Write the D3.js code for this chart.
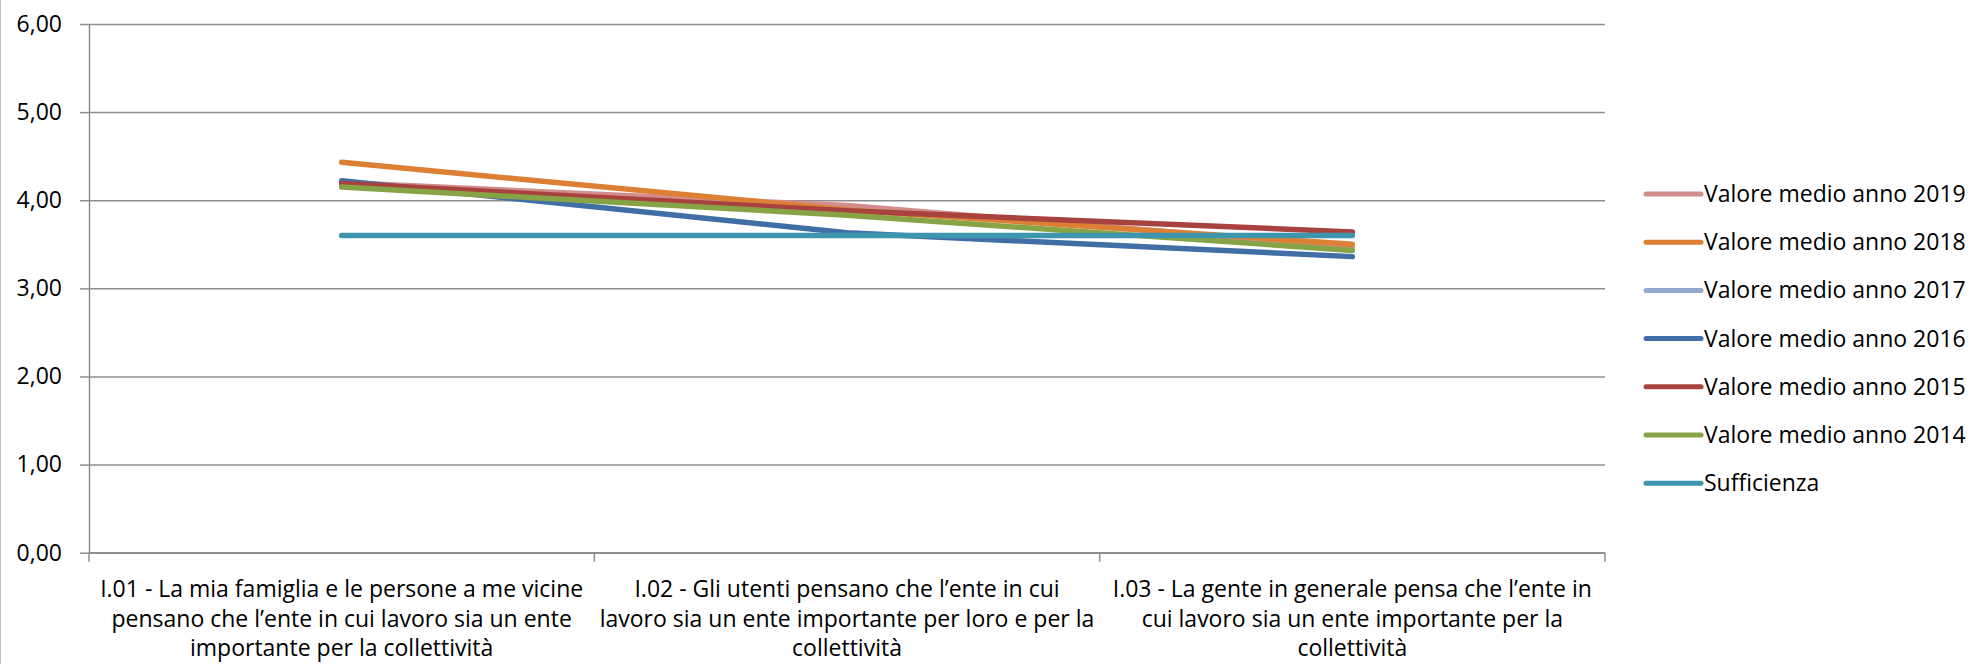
<!DOCTYPE html>
<html>
<head>
<meta charset="utf-8">
<script src="https://cdn.jsdelivr.net/npm/d3@7"></script>
<style>
  body { margin: 0; background: #fff; }
  text { font-family: "Open Sans", sans-serif; fill: #000; }
</style>
</head>
<body>
<script>
// categories (line breaks as in the original chart)
var categories = [
    "I.01 - La mia famiglia e le persone a me vicine\npensano che l\u2019ente in cui lavoro sia un ente\nimportante per la collettività",
    "I.02 - Gli utenti pensano che l\u2019ente in cui\nlavoro sia un ente importante per loro e per la\ncollettività",
    "I.03 - La gente in generale pensa che l\u2019ente in\ncui lavoro sia un ente importante per la\ncollettività"
];

var seriesNames = ["Valore medio anno 2019", "Valore medio anno 2018", "Valore medio anno 2017",
    "Valore medio anno 2016", "Valore medio anno 2015", "Valore medio anno 2014", "Sufficienza"];

var v2019 = [4.20, 3.94, 3.47];
var v2018 = [4.43, 3.89, 3.50];
var v2017 = [null, null, null];
var v2016 = [4.22, 3.63, 3.36];
var v2015 = [4.19, 3.88, 3.64];
var v2014 = [4.15, 3.83, 3.43];
var sufficienza = [3.60, 3.60, 3.60];

var colors = ["#d28c8b", "#dd8034", "#93a9cf", "#426ea6", "#a8423f", "#86a446", "#3e96ae"];

var yTicks = [0, 1, 2, 3, 4, 5, 6];

var allValues = [v2019, v2018, v2017, v2016, v2015, v2014, sufficienza];

var W = 1977, H = 664;
var plotLeft = 89, plotRight = 1605, plotTop = 24, plotBottom = 552.7;

var svg = d3.select("body").append("svg")
    .attr("width", W)
    .attr("height", H);

// chart frame edge on the left
svg.append("line")
    .attr("x1", 0.5).attr("x2", 0.5)
    .attr("y1", 0).attr("y2", H)
    .style("stroke", "#bfbfbf")
    .style("stroke-width", 1);

var x = d3.scaleBand()
    .domain(categories)
    .range([plotLeft, plotRight]);

var y = d3.scaleLinear()
    .domain([0, 6])
    .range([plotBottom, plotTop]);

var itLocale = d3.formatLocale({decimal: ",", thousands: ".", grouping: [3], currency: ["", "€"]});
var fmt = itLocale.format(".2f");

// gridlines
var grid = svg.append("g")
    .attr("transform", "translate(" + plotLeft + ",0)")
    .call(d3.axisLeft(y).tickValues(yTicks).tickSize(-(plotRight - plotLeft)).tickFormat(""));
grid.select(".domain").remove();
grid.selectAll("line").style("stroke", "#8e8e8e").style("stroke-width", 1.5);

// y axis
var yAxisGroup = svg.append("g")
    .attr("transform", "translate(" + plotLeft + ",0)")
    .call(d3.axisLeft(y).tickValues(yTicks).tickSize(9).tickSizeOuter(0).tickPadding(18).tickFormat(fmt));
yAxisGroup.select(".domain").style("stroke", "#8e8e8e").style("stroke-width", 1.5);
yAxisGroup.selectAll("line").style("stroke", "#8e8e8e").style("stroke-width", 1.5);
yAxisGroup.selectAll("text")
    .style("font-family", "'Open Sans', sans-serif")
    .style("font-size", "23px")
    .attr("fill", "#000");

// x axis line and boundary ticks
svg.append("line")
    .attr("x1", plotLeft).attr("x2", plotRight)
    .attr("y1", y(0)).attr("y2", y(0))
    .style("stroke", "#8e8e8e")
    .style("stroke-width", 1.5);

var bounds = categories.map(function (c) { return x(c); }).concat([x(categories[categories.length - 1]) + x.bandwidth()]);
svg.selectAll(".xtick")
    .data(bounds)
    .enter()
    .append("line")
    .attr("class", "xtick")
    .attr("x1", function (d) { return d; })
    .attr("x2", function (d) { return d; })
    .attr("y1", y(0))
    .attr("y2", y(0) + 9)
    .style("stroke", "#8e8e8e")
    .style("stroke-width", 1.5);

// category labels
var catLabels = svg.selectAll(".catlabel")
    .data(categories)
    .enter()
    .append("text")
    .attr("class", "catlabel")
    .attr("text-anchor", "middle")
    .style("font-size", "23px");
catLabels.each(function (d) {
    var t = d3.select(this);
    d.split("\n").forEach(function (line, i) {
        t.append("tspan")
            .attr("x", x(d) + x.bandwidth() / 2)
            .attr("y", 597 + i * 29.7)
            .text(line);
    });
});

// series lines
var line = d3.line()
    .defined(function (d) { return d.v != null; })
    .x(function (d) { return x(d.c) + x.bandwidth() / 2; })
    .y(function (d) { return y(d.v); });

allValues.forEach(function (vals, i) {
    var pts = categories.map(function (c, j) { return {c: c, v: vals[j]}; });
    svg.append("path")
        .datum(pts)
        .attr("d", line)
        .style("fill", "none")
        .style("stroke", colors[i])
        .style("stroke-width", 5.5)
        .style("stroke-linecap", "round")
        .style("stroke-linejoin", "round");
});

// legend
var legend = svg.selectAll(".legend")
    .data(seriesNames)
    .enter()
    .append("g")
    .attr("class", "legend")
    .attr("transform", function (d, i) { return "translate(1646," + (194 + i * 48.2) + ")"; });

legend.append("line")
    .attr("x1", 0).attr("x2", 55)
    .attr("y1", 0).attr("y2", 0)
    .style("stroke", function (d, i) { return colors[i]; })
    .style("stroke-width", 5)
    .style("stroke-linecap", "round");

legend.append("text")
    .attr("x", 58)
    .attr("y", 0)
    .attr("dy", "0.35em")
    .style("font-size", "23px")
    .text(function (d) { return d; });
</script>
</body>
</html>
